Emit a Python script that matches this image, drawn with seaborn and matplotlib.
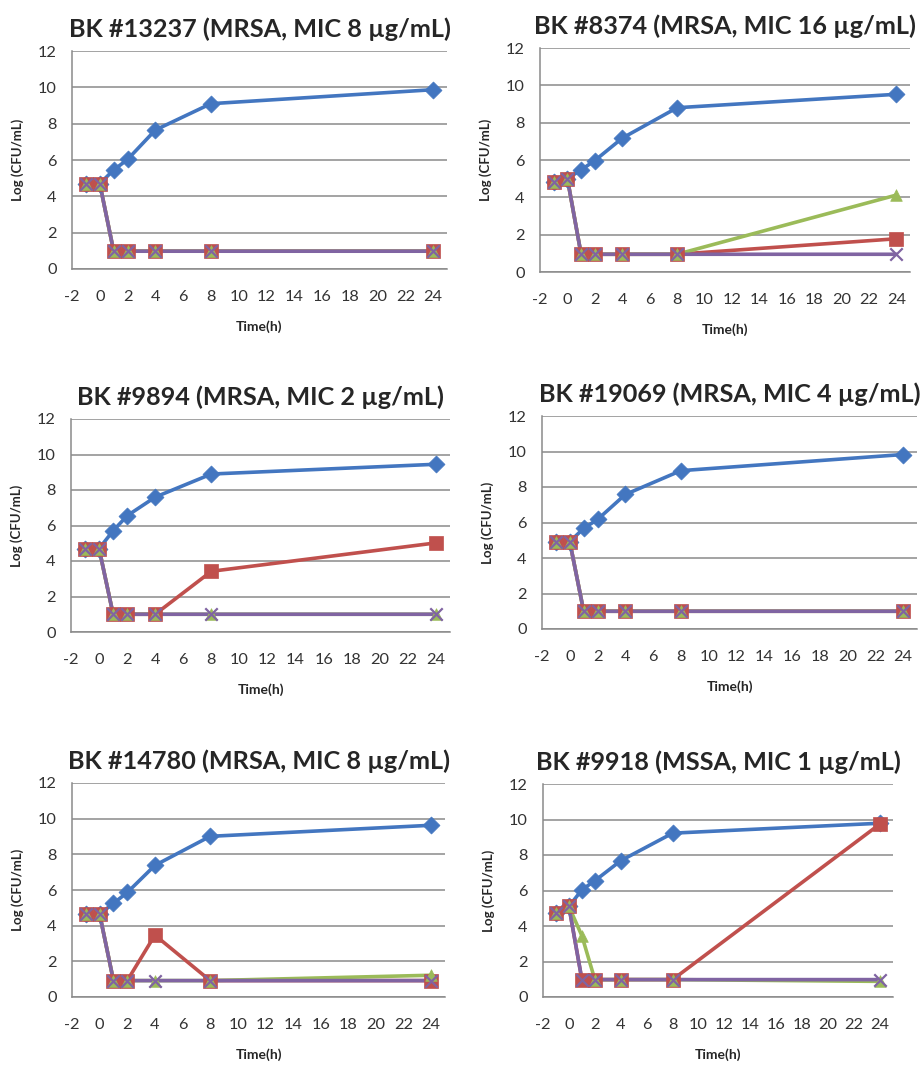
import numpy as np
import pandas as pd
import seaborn as sns
import matplotlib.pyplot as plt

# sampling times (h)
time_h = [-1, 0, 1, 2, 4, 8, 24]
series_names = ['control', 'conc_1', 'conc_2', 'conc_3']

titles = ['BK #13237 (MRSA, MIC 8 µg/mL)', 'BK #8374 (MRSA, MIC 16 µg/mL)',
          'BK #9894 (MRSA, MIC 2 µg/mL)', 'BK #19069 (MRSA, MIC 4 µg/mL)',
          'BK #14780 (MRSA, MIC 8 µg/mL)', 'BK #9918 (MSSA, MIC 1 µg/mL)']

# log CFU/mL per strain, one list per series
bk13237_control = [4.7, 4.7, 5.45, 6.03, 7.65, 9.1, 9.87]
bk13237_conc_1 = [4.7, 4.7, 0.98, 0.98, 0.98, 0.98, 0.98]
bk13237_conc_2 = [4.7, 4.7, 0.98, 0.98, 0.98, 0.98, 0.98]
bk13237_conc_3 = [4.7, 4.7, 0.98, 0.98, 0.98, 0.98, 0.98]

bk8374_control = [4.8, 5.0, 5.47, 5.97, 7.17, 8.8, 9.52]
bk8374_conc_1 = [4.8, 5.0, 0.95, 0.95, 0.95, 0.95, 1.78]
bk8374_conc_2 = [4.8, 5.0, 0.95, 0.95, 0.95, 0.95, 4.12]
bk8374_conc_3 = [4.8, 5.0, 0.95, 0.95, 0.95, 0.95, 0.95]

bk9894_control = [4.65, 4.7, 5.7, 6.55, 7.6, 8.9, 9.45]
bk9894_conc_1 = [4.65, 4.7, 1.0, 1.0, 1.0, 3.42, 5.02]
bk9894_conc_2 = [4.65, 4.7, 1.0, 1.0, 1.0, 1.0, 1.0]
bk9894_conc_3 = [4.65, 4.7, 1.0, 1.0, 1.0, 1.0, 1.0]

bk19069_control = [4.88, 4.92, 5.67, 6.17, 7.58, 8.92, 9.83]
bk19069_conc_1 = [4.88, 4.92, 1.0, 1.0, 1.0, 1.0, 1.0]
bk19069_conc_2 = [4.88, 4.92, 1.0, 1.0, 1.0, 1.0, 1.0]
bk19069_conc_3 = [4.88, 4.92, 1.0, 1.0, 1.0, 1.0, 1.0]

bk14780_control = [4.65, 4.65, 5.25, 5.86, 7.38, 9.01, 9.63]
bk14780_conc_1 = [4.65, 4.65, 0.92, 0.92, 3.47, 0.92, 0.92]
bk14780_conc_2 = [4.65, 4.65, 0.92, 0.92, 0.92, 0.92, 1.22]
bk14780_conc_3 = [4.65, 4.65, 0.92, 0.92, 0.92, 0.92, 0.92]

bk9918_control = [4.75, 5.1, 6.04, 6.55, 7.68, 9.23, 9.79]
bk9918_conc_1 = [4.75, 5.1, 0.98, 0.98, 0.98, 0.98, 9.75]
bk9918_conc_2 = [4.75, 5.1, 3.45, 0.98, 0.98, 0.98, 0.88]
bk9918_conc_3 = [4.75, 5.1, 0.98, 0.98, 0.98, 0.98, 0.98]

panels = [
    [bk13237_control, bk13237_conc_1, bk13237_conc_2, bk13237_conc_3],
    [bk8374_control, bk8374_conc_1, bk8374_conc_2, bk8374_conc_3],
    [bk9894_control, bk9894_conc_1, bk9894_conc_2, bk9894_conc_3],
    [bk19069_control, bk19069_conc_1, bk19069_conc_2, bk19069_conc_3],
    [bk14780_control, bk14780_conc_1, bk14780_conc_2, bk14780_conc_3],
    [bk9918_control, bk9918_conc_1, bk9918_conc_2, bk9918_conc_3],
]

x_ticks = list(range(-2, 25, 2))
y_ticks = list(range(0, 13, 2))

# Excel-2007 like colours and markers
palette = {'control': '#4376C0', 'conc_1': '#C0504D', 'conc_2': '#9BBB59', 'conc_3': '#8064A2'}
markers = {'control': 'D', 'conc_1': 's', 'conc_2': '^', 'conc_3': 'x'}
msize = {'control': 75, 'conc_1': 110, 'conc_2': 70, 'conc_3': 80}

sns.set_style('white')
plt.rcParams['font.family'] = ['Lato', 'DejaVu Sans']
plt.rcParams['axes.unicode_minus'] = False

W, H = 921, 1067
fig = plt.figure(figsize=(W / 100, H / 100), dpi=100)

# axes boxes in pixels: left, top, right, bottom
boxes = [(72, 51, 447, 269), (540, 48, 910, 272),
         (71, 419, 450, 632), (542, 416, 917, 629),
         (72, 783, 445, 997), (543, 784, 893, 997)]

for box, title, vals in zip(boxes, titles, panels):
    l, t, r, b = box
    ax = fig.add_axes([l / W, 1 - b / H, (r - l) / W, (b - t) / H])

    df = pd.DataFrame({'time': time_h * 4,
                       'logcfu': sum(vals, []),
                       'series': np.repeat(series_names, len(time_h))})

    # lines first, markers above them (as in Excel)
    sns.lineplot(data=df, x='time', y='logcfu', hue='series',
                 hue_order=series_names, palette=palette,
                 linewidth=2.6, legend=False, ax=ax, zorder=3)
    for name in series_names:
        sub = df[df['series'] == name]
        if markers[name] == 'x':
            sns.scatterplot(data=sub, x='time', y='logcfu', color=palette[name],
                            marker='x', s=msize[name], linewidth=1.6,
                            legend=False, ax=ax, zorder=4)
        else:
            sns.scatterplot(data=sub, x='time', y='logcfu', color=palette[name],
                            marker=markers[name], s=msize[name],
                            edgecolor=palette[name], linewidth=0.5,
                            legend=False, ax=ax, zorder=4)

    ax.set_xlim(-2, 25)
    ax.set_ylim(0, 12)
    ax.set_xticks(x_ticks)
    ax.set_yticks(y_ticks)
    ax.yaxis.grid(True, color='#8a8a8a', linewidth=1.1)
    ax.set_axisbelow(True)
    for s in ['top', 'right']:
        ax.spines[s].set_visible(False)
    for s in ['left', 'bottom']:
        ax.spines[s].set_color('#8a8a8a')
        ax.spines[s].set_linewidth(1.1)
    ax.tick_params(axis='both', direction='out', length=6, width=1.1,
                   color='#8a8a8a', labelsize=11.8, labelcolor='#333333')
    ax.tick_params(axis='x', pad=9)
    ax.tick_params(axis='y', pad=5)

    ax.set_xlabel('Time(h)', fontsize=10, fontweight='bold', labelpad=12)
    ax.set_ylabel('Log (CFU/mL)', fontsize=9.5, fontweight='bold', labelpad=10)
    ax.set_title(title, fontsize=18.2, fontweight='bold', pad=10)

fig.savefig('out.png', dpi=100)
